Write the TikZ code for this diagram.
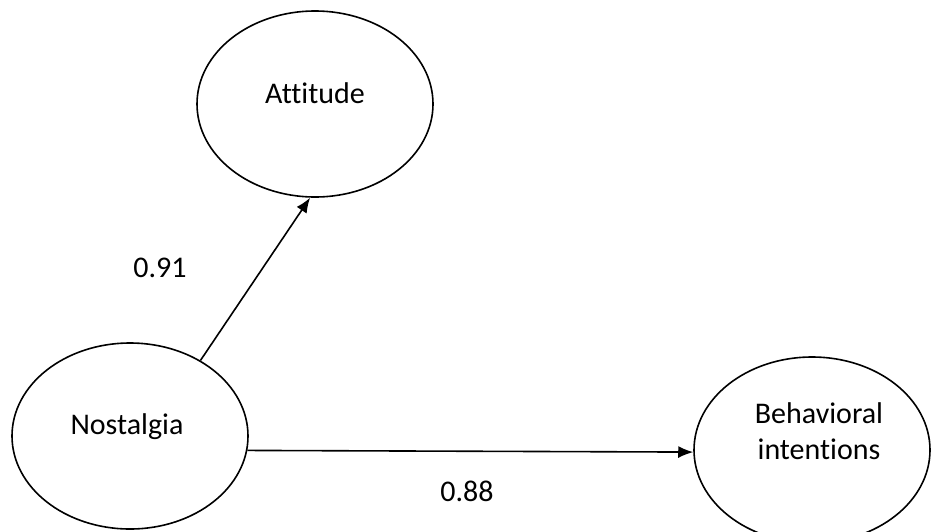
\documentclass[tikz,border=0pt]{standalone}
\usepackage{fontspec}
\setmainfont{Carlito}[Ligatures={NoCommon}]
\usetikzlibrary{shapes.geometric,arrows.meta}
\begin{document}
\begin{tikzpicture}[x=1pt,y=-1pt,
  construct/.style={draw, ellipse, line width=1.6pt, minimum width=236pt, minimum height=186pt, inner sep=0pt},
  txt/.style={font=\fontsize{30}{36}\selectfont, align=center},
  path/.style={line width=1.6pt, -{Latex[length=15pt,width=12pt]}},
  coef/.style={font=\fontsize{30}{36}\selectfont}]
\useasboundingbox (0,0) rectangle (931,531);
\node[construct, label={[txt, yshift=11pt]center:Attitude}] (att) at (315,104) {};
\node[construct, label={[txt, yshift=9pt, xshift=-3pt]center:Nostalgia}] (nos) at (130,436) {};
\node[construct, label={[txt, yshift=19pt, xshift=7pt]center:Behavioral\\intentions}] (beh) at (812,450) {};
\draw[path] (nos.47) -- (att.267);
\draw[path] (nos.-7) -- (beh.181);
\node[coef] (c1) at (160,268) {0.91};
\node[coef] (c2) at (467,491) {0.88};
\end{tikzpicture}
\end{document}
